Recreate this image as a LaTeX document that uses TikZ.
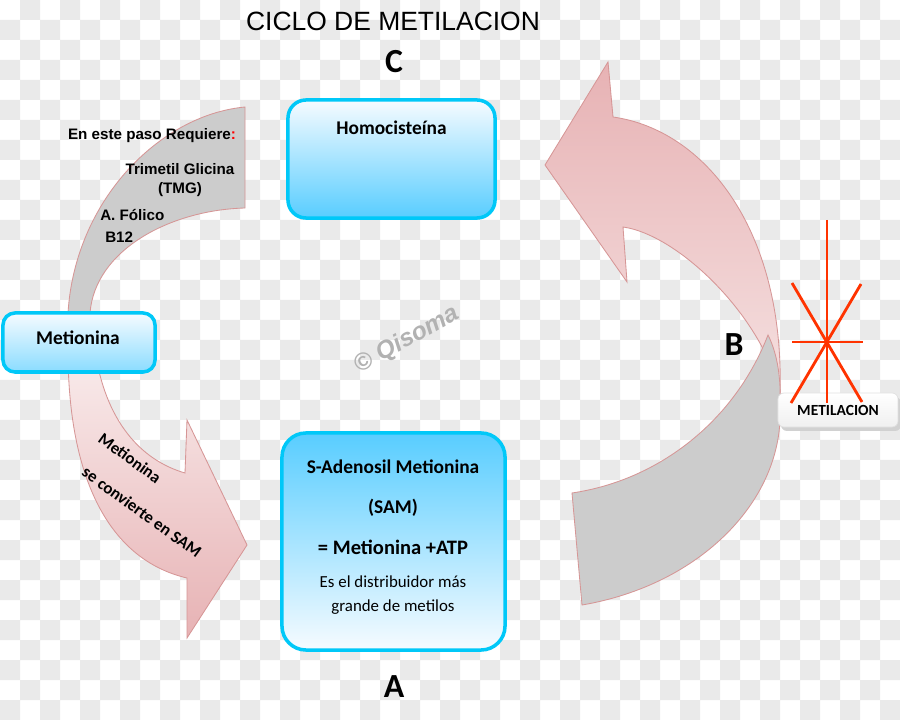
\documentclass[tikz,border=0pt]{standalone}
\usepackage{fontspec}
\setmainfont{Carlito}
\newfontfamily\arialfont{Liberation Sans}
\usepackage{xcolor}
\usetikzlibrary{positioning}

\definecolor{checkgrey}{RGB}{234,234,234}
\definecolor{boxline}{RGB}{0,200,248}
\definecolor{boxblue}{RGB}{88,205,255}
\definecolor{boxwhite}{RGB}{246,251,255}
\definecolor{pinkline}{RGB}{214,150,150}
\definecolor{pinkdark}{RGB}{231,178,180}
\definecolor{pinklight}{RGB}{245,224,224}
\definecolor{bandgrey}{RGB}{204,204,204}
\definecolor{starred}{RGB}{255,51,0}
\definecolor{wmgrey}{RGB}{178,178,178}

\begin{document}
\begin{tikzpicture}[
    x=0.025cm, y=-0.025cm,
    cyanbox/.style={draw=boxline, line width=2.5pt, inner sep=0pt},
    band/.style={draw=pinkline, line width=0.6pt, fill=bandgrey},
    pinkarrow/.style={draw=pinkline, line width=0.6pt},
    starline/.style={draw=starred, line width=2pt},
    req/.style={font=\arialfont\bfseries\fontsize{10.8}{12}\selectfont, inner sep=0pt},
    boxtxt/.style={font=\bfseries\fontsize{13.8}{16}\selectfont, inner sep=0pt},
    small/.style={font=\fontsize{12}{14}\selectfont, inner sep=0pt},
    letter/.style={font=\bfseries\fontsize{24}{26}\selectfont, inner sep=0pt},
    ontext/.style={font=\bfseries\fontsize{12}{14}\selectfont, inner sep=0pt, rotate=-36}
]
    \useasboundingbox (0,0) rectangle (900,720);

    % checkerboard background
    \fill[white] (0,0) rectangle (900,720);
    \fill[checkgrey] \foreach \j in {0,...,35}{
        \foreach \i in {0,...,22}{
            ({(2*\i+mod(\j+1,2))*20},{\j*20}) rectangle ++(20,20)
        }
    };

    % left cycle arrow (back face on top, front face with head below)
    \path[band] (245,107) .. controls (160,115) and (75,200) .. (68,313) -- (68,345)
        -- (92,345) -- (90,313) .. controls (95,250) and (170,210) .. (245,208) -- cycle;
    \path[pinkarrow, top color=pinklight!60!white, bottom color=pinkdark]
        (95,350) .. controls (105,420) and (140,460) .. (185,473) -- (187,420)
        -- (247,545) -- (187,638) -- (187,578)
        .. controls (110,560) and (68,480) .. (68,350) -- cycle;

    % right cycle arrow
    \path[pinkarrow, top color=pinkdark, bottom color=pinklight]
        (613,117) .. controls (705,130) and (785,230) .. (780,395)
        .. controls (765,320) and (680,235) .. (623,227) -- (627,282)
        -- (545,165) -- (608,62) -- cycle;
    \path[band] (572,493) .. controls (660,480) and (735,420) .. (768,335)
        .. controls (778,355) and (781,380) .. (780,405)
        .. controls (785,500) and (700,585) .. (582,605) -- cycle;

    % methylation label with star
    \fill[black!18, rounded corners=0.15cm] (781,397) rectangle (901,431);
    \node[draw=black!12, line width=0.5pt, rounded corners=0.15cm, top color=white,
        bottom color=black!6, minimum width=3cm, minimum height=0.85cm,
        font=\bfseries\fontsize{11}{13}\selectfont] (metil) at (838,410) {METILACION};
    \coordinate (starc) at (827,342);
    \draw[starline] (827,220) -- (827,403);
    \draw[starline] (792,342) -- (863,342);
    \draw[starline] (792,283) -- (862,402);
    \draw[starline] (861,284) -- (791,403);

    % boxes
    \node[cyanbox, rounded corners=0.45cm, top color=boxwhite, bottom color=boxblue,
        minimum width=5.175cm, minimum height=2.95cm] (homo) at (391.5,159) {};
    \node[boxtxt] (homot) at (391.5,128) {Homociste\'{\i}na};

    \node[cyanbox, rounded corners=0.3cm, top color=boxwhite, bottom color=boxblue!70,
        minimum width=3.8cm, minimum height=1.475cm] (met) at (79,342.5) {};
    \node[boxtxt] (mett) at (78,338) {Metionina};

    \node[cyanbox, rounded corners=0.6cm, top color=boxblue, bottom color=boxwhite,
        minimum width=5.575cm, minimum height=5.425cm] (sam) at (393.5,541.5) {};
    \node[boxtxt] (sam1) at (393,467) {S-Adenosil Metionina};
    \node[boxtxt] (sam2) at (393,508) {(SAM)};
    \node[boxtxt, font=\bfseries\fontsize{14.6}{16}\selectfont] (sam3) at (393,547) {= Metionina +ATP};
    \node[small] (sam4) at (393,582) {Es el distribuidor m\'as};
    \node[small] (sam5) at (393,607) {grande de metilos};

    % requirements of the step
    \node[req] (req) at (152,136) {En este paso Requiere\textcolor{red}{:}};
    \node[req] (tmg1) at (180,169) {Trimetil Glicina};
    \node[req] (tmg2) at (180,190) {(TMG)};
    \node[req, anchor=west] (folico) at (100,215) {A. F\'olico};
    \node[req, anchor=west] (b12) at (105,237) {B12};

    % text on the front arrow
    \node[ontext] (conv1) at (130,458) {Metionina};
    \node[ontext] (conv2) at (142,512) {se convierte en SAM};

    % title and stage letters
    \node[font=\arialfont\fontsize{18.8}{21}\selectfont, inner sep=0pt] (title) at (393,21) {CICLO DE METILACION};
    \node[letter] (lc) at (394,62) {C};
    \node[letter] (lb) at (734,345) {B};
    \node[letter] (la) at (394,687) {A};

    % watermark
    \node[font=\arialfont\bfseries\itshape\fontsize{17.5}{19}\selectfont, text=wmgrey,
        rotate=29, inner sep=0pt] (wm) at (407,340) {\textcopyright{} Qisoma};
\end{tikzpicture}
\end{document}
